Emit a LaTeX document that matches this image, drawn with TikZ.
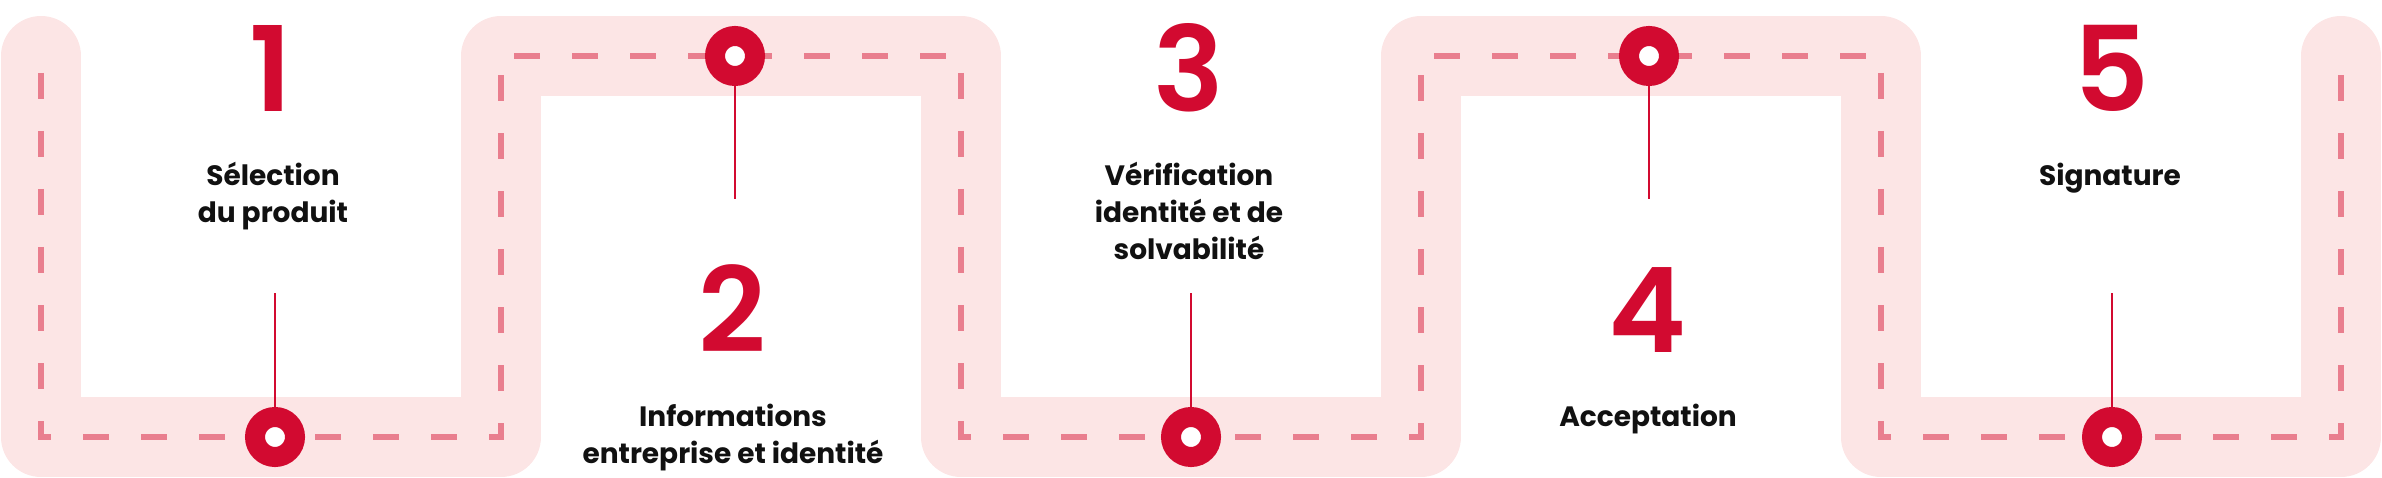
\documentclass[tikz,border=0pt]{standalone}
\usepackage{fontspec}
\setmainfont{Poppins}
\newfontfamily\digitfont{Poppins SemiBold}
\newfontfamily\labelfont{Poppins Bold}
\definecolor{trackpink}{HTML}{FCE5E5}
\definecolor{dashpink}{HTML}{E97E8E}
\definecolor{mred}{HTML}{D20A30}
\definecolor{txt}{HTML}{111111}
\begin{document}
\begin{tikzpicture}[x=1pt,y=-1pt,
  track/.style={draw=trackpink,line width=80pt,line cap=round,line join=round},
  trackdash/.style={draw=dashpink,line width=6pt,dash pattern=on 26pt off 32pt},
  marker/.style={circle,draw=mred,line width=20pt,fill=white,minimum size=40pt,inner sep=0pt},
  conn/.style={draw=mred,line width=2.5pt},
  numtext/.style={inner sep=0pt,text=mred,font=\digitfont\fontsize{118}{118}\selectfont},
  labeltext/.style={inner sep=0pt,text=txt,align=center,font=\labelfont\fontsize{28}{37}\selectfont}]
\useasboundingbox (0,0) rectangle (2382,478);
% track
\draw[track] (41,56) -- (41,437) -- (501,437) -- (501,56) -- (961,56) -- (961,437)
  -- (1421,437) -- (1421,56) -- (1881,56) -- (1881,437) -- (2341,437) -- (2341,56);
\draw[trackdash] (41,73) -- (41,437) -- (501,437) -- (501,56) -- (961,56) -- (961,437)
  -- (1421,437) -- (1421,56) -- (1881,56) -- (1881,437) -- (2341,437) -- (2341,73);
% connector ends
\coordinate (c1) at (275,293);
\coordinate (c2) at (735,199);
\coordinate (c3) at (1191,293);
\coordinate (c4) at (1649,199);
\coordinate (c5) at (2112,293);
% markers
\node[marker] (m1) at (275,437) {};
\node[marker] (m2) at (735,56) {};
\node[marker] (m3) at (1191,437) {};
\node[marker] (m4) at (1649,56) {};
\node[marker] (m5) at (2112,437) {};
\draw[conn] (m1.north) -- (c1);
\draw[conn] (m2.south) -- (c2);
\draw[conn] (m3.north) -- (c3);
\draw[conn] (m4.south) -- (c4);
\draw[conn] (m5.north) -- (c5);
% numbers
\node[numtext,anchor=base] (n1) at (271,112) {1};
\node[numtext,anchor=base] (n2) at (732,352) {2};
\node[numtext,anchor=base] (n3) at (1189,112) {3};
\node[numtext,anchor=base] (n4) at (1647,352) {4};
\node[numtext,anchor=base] (n5) at (2111,112) {5};
% labels (base anchor = baseline of the last line)
\node[labeltext,anchor=base] (t1) at (273,223) {Sélection\\du produit};
\node[labeltext,anchor=base] (t2) at (733,463) {Informations\\entreprise et identité};
\node[labeltext,anchor=base] (t3) at (1189,260) {Vérification\\identité et de\\solvabilité};
\node[labeltext,anchor=base] (t4) at (1648,426) {Acceptation};
\node[labeltext,anchor=base] (t5) at (2110,186) {Signature};
\end{tikzpicture}
\end{document}
